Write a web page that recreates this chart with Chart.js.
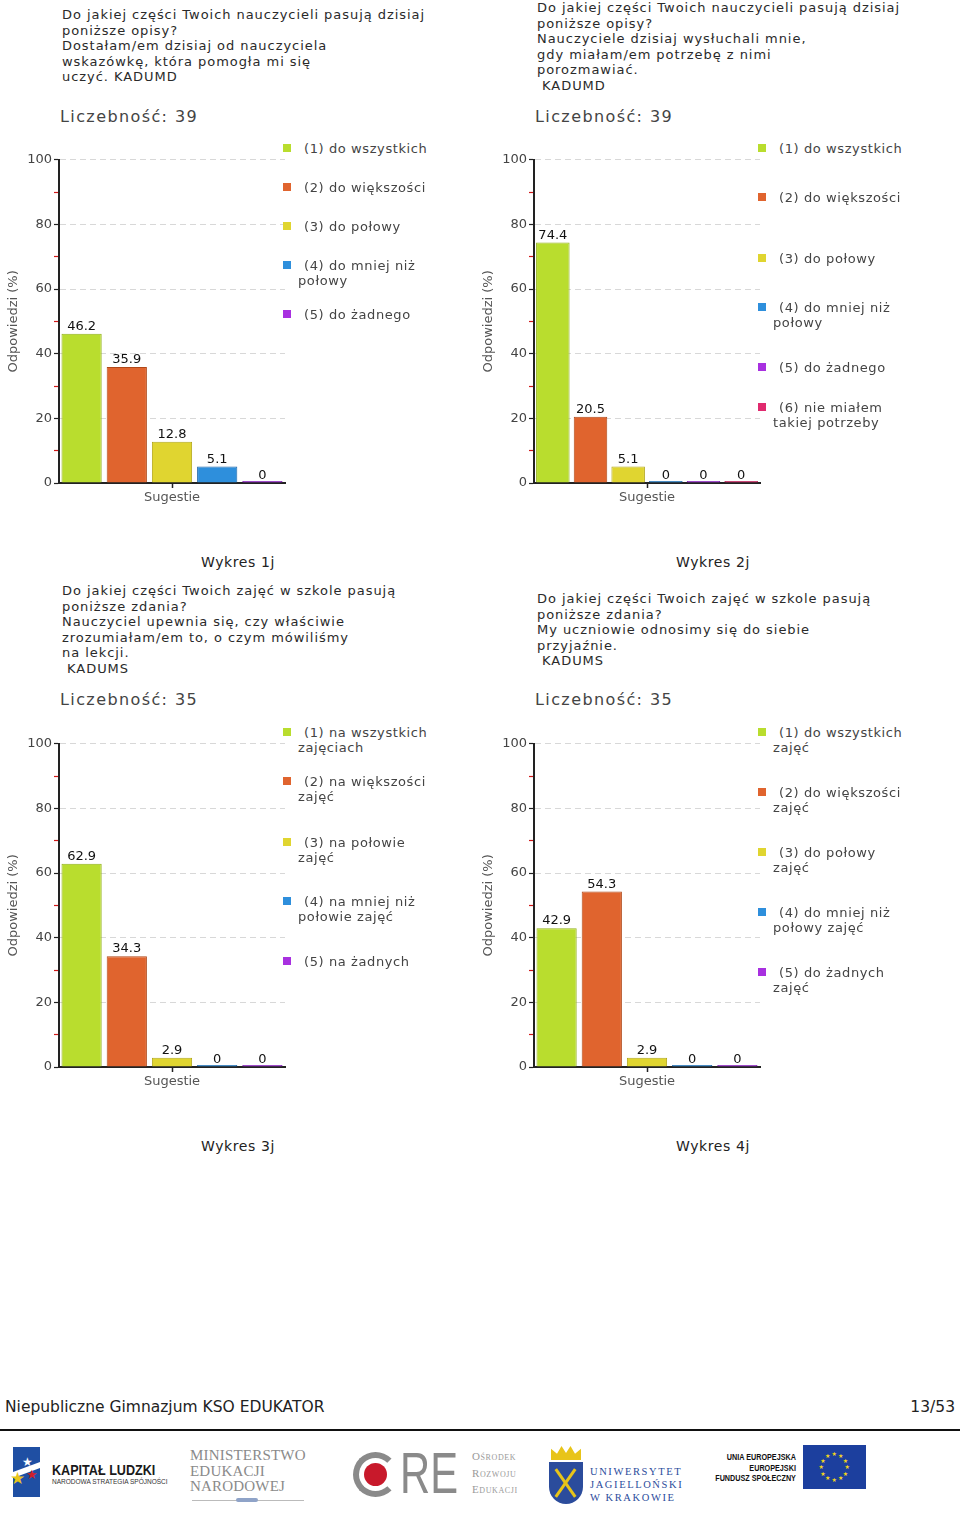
<!DOCTYPE html>
<html lang="pl">
<head>
<meta charset="UTF-8">
<title>Wykresy 1j-4j</title>
<script src="https://cdn.jsdelivr.net/npm/chart.js"></script>
<style>
    body {
        margin: 0;
        background: #fff;
        font-family: "DejaVu Sans", Verdana, sans-serif;
    }
    .page {
        position: relative;
        width: 960px;
        height: 1518px;
        overflow: hidden;
    }
    .abs { position: absolute; }
    .question {
        font-size: 13px;
        letter-spacing: 0.95px;
        line-height: 15.5px;
        color: #2a2a2a;
        white-space: nowrap;
    }
    .count {
        font-size: 16px;
        letter-spacing: 1.4px;
        line-height: 20px;
        color: #444;
        white-space: nowrap;
    }
    .caption {
        font-size: 14px;
        letter-spacing: 0.6px;
        line-height: 18px;
        color: #222;
        width: 300px;
        text-align: center;
    }
    .legend-item {
        font-size: 13px;
        letter-spacing: 0.6px;
        line-height: 15px;
        color: #444;
        white-space: nowrap;
        text-indent: 6px;
    }
    .legend-item .sq {
        position: absolute;
        left: -15px;
        top: 3px;
        width: 8px;
        height: 8px;
    }
    /* stopka */
    .footer-text { font-size: 15.5px; line-height: 20px; color: #222; }
    .rule { left: 0; top: 1429px; width: 960px; height: 2px; background: #111; }
    .men { font-family: "Liberation Serif", serif; color: #8a8a8a; font-size: 15px; line-height: 15.5px; letter-spacing: 0.2px; }
    .ore-small { font-family: "Liberation Serif", serif; color: #9a9a9a; font-size: 11px; line-height: 16.5px; font-variant: small-caps; letter-spacing: 0.6px; }
    .uj { font-family: "Liberation Serif", serif; color: #2b4c9c; font-size: 10.5px; line-height: 13px; letter-spacing: 1.6px; }
    .eu { font-family: "Liberation Sans", sans-serif; font-weight: bold; color: #111; font-size: 8.5px; line-height: 10.5px; text-align: right; white-space: nowrap; transform: scaleX(0.85); transform-origin: right top; }
</style>
</head>
<body>
<div class="page" id="page">

    <!-- Wykres 1j -->
    <div class="abs question" style="left:62px; top:7px;">Do jakiej części Twoich nauczycieli pasują dzisiaj<br>poniższe opisy?<br>Dostałam/em dzisiaj od nauczyciela<br>wskazówkę, która pomogła mi się<br>uczyć. KADUMD</div>
    <div class="abs count" style="left:60px; top:107px;">Liczebność: 39</div>
    <div class="abs caption" style="left:88px; top:553px;">Wykres 1j</div>

    <!-- Wykres 2j -->
    <div class="abs question" style="left:537px; top:0px;">Do jakiej części Twoich nauczycieli pasują dzisiaj<br>poniższe opisy?<br>Nauczyciele dzisiaj wysłuchali mnie,<br>gdy miałam/em potrzebę z nimi<br>porozmawiać.<br>&nbsp;KADUMD</div>
    <div class="abs count" style="left:535px; top:107px;">Liczebność: 39</div>
    <div class="abs caption" style="left:563px; top:553px;">Wykres 2j</div>

    <!-- Wykres 3j -->
    <div class="abs question" style="left:62px; top:583px;">Do jakiej części Twoich zajęć w szkole pasują<br>poniższe zdania?<br>Nauczyciel upewnia się, czy właściwie<br>zrozumiałam/em to, o czym mówiliśmy<br>na lekcji.<br>&nbsp;KADUMS</div>
    <div class="abs count" style="left:60px; top:690px;">Liczebność: 35</div>
    <div class="abs caption" style="left:88px; top:1137px;">Wykres 3j</div>

    <!-- Wykres 4j -->
    <div class="abs question" style="left:537px; top:591px;">Do jakiej części Twoich zajęć w szkole pasują<br>poniższe zdania?<br>My uczniowie odnosimy się do siebie<br>przyjaźnie.<br>&nbsp;KADUMS</div>
    <div class="abs count" style="left:535px; top:690px;">Liczebność: 35</div>
    <div class="abs caption" style="left:563px; top:1137px;">Wykres 4j</div>

    <!-- stopka -->
    <div class="abs footer-text" style="left:5px; top:1397px;">Niepubliczne Gimnazjum KSO EDUKATOR</div>
    <div class="abs footer-text" style="right:5px; top:1397px;">13/53</div>
    <div class="abs rule"></div>

    <!-- logo: Kapitał Ludzki -->
    <div class="abs" style="left:13px; top:1447px; width:27px; height:50px; background:#1f4fa3;"></div>
    <div class="abs" style="left:13px; top:1467px; width:27px; height:6px; background:#fff; transform:skewY(-20deg);"></div>
    <div class="abs" style="left:10px; top:1470px; color:#e8c619; font-size:17px; line-height:17px;">&#9733;</div>
    <div class="abs" style="left:26px; top:1468px; color:#d0202a; font-size:13px; line-height:13px;">&#9733;</div>
    <div class="abs" style="left:22px; top:1456px; color:#fff; font-size:12px; line-height:12px;">&#9733;</div>
    <div class="abs" style="left:52px; top:1462px; font-family:'Liberation Sans',sans-serif; font-weight:bold; font-size:14px; color:#1a1a1a; transform:scaleX(0.9); transform-origin:left top;">KAPITAŁ LUDZKI</div>
    <div class="abs" style="left:52px; top:1478px; font-family:'Liberation Sans',sans-serif; font-size:6.5px; color:#333; white-space:nowrap;">NARODOWA STRATEGIA SPÓJNOŚCI</div>

    <!-- logo: MEN -->
    <div class="abs men" style="left:190px; top:1448px;">MINISTERSTWO<br>EDUKACJI<br>NARODOWEJ</div>
    <div class="abs" style="left:192px; top:1500px; width:112px; height:1px; background:#bbb;"></div>
    <div class="abs" style="left:236px; top:1498px; width:22px; height:4px; background:#8fa3c8; border-radius:2px;"></div>

    <!-- logo: ORE -->
    <div class="abs" style="left:353px; top:1452px; width:33px; height:33px; border:6px solid #8a8a8a; border-radius:50%; border-right-color:transparent;"></div>
    <div class="abs" style="left:364px; top:1463px; width:23px; height:23px; background:#c8192b; border-radius:50%;"></div>
    <div class="abs" style="left:400px; top:1442px; font-family:'Liberation Sans',sans-serif; font-size:58px; line-height:62px; color:#8a8a8a; transform:scaleX(0.72); transform-origin:left top;">RE</div>
    <div class="abs ore-small" style="left:472px; top:1448px;">Ośrodek<br>Rozwoju<br>Edukacji</div>

    <!-- logo: UJ -->
    <div class="abs" style="left:551px; top:1446px; width:30px; height:14px; background:#e8c419; clip-path:polygon(0 100%,0 20%,20% 55%,35% 0,50% 50%,65% 0,80% 55%,100% 20%,100% 100%);"></div>
    <div class="abs" style="left:549px; top:1462px; width:34px; height:42px; background:#2b4c9c; border-radius:0 0 17px 17px;"></div>
    <div class="abs" style="left:564px; top:1466px; width:3px; height:34px; background:#e8c419; transform:rotate(35deg);"></div>
    <div class="abs" style="left:564px; top:1466px; width:3px; height:34px; background:#e8c419; transform:rotate(-35deg);"></div>
    <div class="abs uj" style="left:590px; top:1465px;">UNIWERSYTET<br>JAGIELLOŃSKI<br>W KRAKOWIE</div>

    <!-- logo: UE EFS -->
    <div class="abs eu" style="right:164px; top:1452px;">UNIA EUROPEJSKA<br>EUROPEJSKI<br>FUNDUSZ SPOŁECZNY</div>
    <div class="abs" id="euFlag" style="left:803px; top:1445px; width:63px; height:44px; background:#1c3f9e;"></div>

    <canvas id="c1" class="abs" width="290" height="360" style="left:0px; top:150px;"></canvas>
    <canvas id="c2" class="abs" width="290" height="360" style="left:475px; top:150px;"></canvas>
    <canvas id="c3" class="abs" width="290" height="360" style="left:0px; top:734px;"></canvas>
    <canvas id="c4" class="abs" width="290" height="360" style="left:475px; top:734px;"></canvas>
</div>

<script>
    // dane
    const categories = ['Sugestie'];
    const yTicks = [0, 20, 40, 60, 80, 100];
    const yTitle = 'Odpowiedzi (%)';

    const labels1 = [['(1) do wszystkich'], ['(2) do większości'], ['(3) do połowy'], ['(4) do mniej niż', 'połowy'], ['(5) do żadnego']];
    const values1 = [46.2, 35.9, 12.8, 5.1, 0];

    const labels2 = [['(1) do wszystkich'], ['(2) do większości'], ['(3) do połowy'], ['(4) do mniej niż', 'połowy'], ['(5) do żadnego'], ['(6) nie miałem', 'takiej potrzeby']];
    const values2 = [74.4, 20.5, 5.1, 0, 0, 0];

    const labels3 = [['(1) na wszystkich', 'zajęciach'], ['(2) na większości', 'zajęć'], ['(3) na połowie', 'zajęć'], ['(4) na mniej niż', 'połowie zajęć'], ['(5) na żadnych']];
    const values3 = [62.9, 34.3, 2.9, 0, 0];

    const labels4 = [['(1) do wszystkich', 'zajęć'], ['(2) do większości', 'zajęć'], ['(3) do połowy', 'zajęć'], ['(4) do mniej niż', 'połowy zajęć'], ['(5) do żadnych', 'zajęć']];
    const values4 = [42.9, 54.3, 2.9, 0, 0];

    // kolory serii
    const fills   = ['#b9dd2e', '#e0642e', '#e0d530', '#2e8fdc', '#a830e0', '#e02a6e'];
    const borders = ['#93b11c', '#b04818', '#b3a81c', '#1d66a8', '#7d1fb0', '#b01c50'];

    Chart.defaults.font.family = '"DejaVu Sans", Verdana, sans-serif';
    Chart.defaults.font.size = 13;

    // etykiety wartości nad słupkami
    const valueLabels = {
        id: 'valueLabels',
        afterDatasetsDraw(chart) {
            const ctx = chart.ctx;
            const y = chart.scales.y;
            ctx.save();
            ctx.font = '13px "DejaVu Sans"';
            ctx.fillStyle = '#111';
            ctx.textAlign = 'center';
            ctx.textBaseline = 'alphabetic';
            chart.data.datasets.forEach((ds, i) => {
                chart.getDatasetMeta(i).data.forEach((bar, j) => {
                    const v = ds.data[j];
                    ctx.fillText(String(v), bar.x, y.getPixelForValue(v) - 4);
                });
            });
            ctx.restore();
        }
    };

    function makeChart(canvasId, labels, values, legendTops) {
        const canvas = document.getElementById(canvasId);
        const datasets = labels.map((lab, i) => ({
            label: lab.join(' '),
            data: [values[i]],
            backgroundColor: fills[i],
            borderColor: borders[i],
            borderWidth: 1,
            minBarLength: 2,
            barPercentage: 0.89,
            categoryPercentage: 1.0
        }));

        new Chart(canvas, {
            type: 'bar',
            data: { labels: categories, datasets: datasets },
            options: {
                responsive: false,
                animation: false,
                layout: { padding: { top: 9, right: 5, left: 0, bottom: 0 } },
                plugins: { legend: { display: false }, tooltip: { enabled: false } },
                scales: {
                    x: {
                        afterFit: s => { s.height = 27; },
                        grid: {
                            offset: false,
                            drawOnChartArea: false,
                            tickLength: 5,
                            tickColor: '#222',
                            tickWidth: 1.5
                        },
                        border: { color: '#222', width: 2 },
                        ticks: { color: '#555', padding: 2, font: { size: 13 } }
                    },
                    y: {
                        min: 0,
                        max: 100,
                        afterFit: s => { s.width = 59; },
                        ticks: {
                            stepSize: 10,
                            color: '#444',
                            padding: 2,
                            font: { size: 13 },
                            callback: v => yTicks.includes(v) ? v : ''
                        },
                        grid: {
                            color: c => (c.tick && yTicks.includes(c.tick.value)) ? '#d8d8d8' : 'rgba(0,0,0,0)',
                            tickColor: c => (c.tick && yTicks.includes(c.tick.value)) ? '#222' : '#d01818',
                            tickLength: 5,
                            tickWidth: 1.2,
                            tickBorderDash: []
                        },
                        border: { color: '#222', width: 2, dash: [6, 4] },
                        title: {
                            display: true,
                            text: yTitle,
                            color: '#555',
                            font: { size: 13 },
                            padding: { top: 6, bottom: 0 }
                        }
                    }
                }
            },
            plugins: [valueLabels]
        });

        // legenda po prawej stronie
        const page = document.getElementById('page');
        const left = parseInt(canvas.style.left) + 298;
        const plotTop = parseInt(canvas.style.top) + 9;
        labels.forEach((lab, i) => {
            const item = document.createElement('div');
            item.className = 'abs legend-item';
            item.style.left = left + 'px';
            item.style.top = (plotTop + legendTops[i] - 7.5) + 'px';
            const sq = document.createElement('span');
            sq.className = 'sq';
            sq.style.background = fills[i];
            item.appendChild(sq);
            item.appendChild(document.createTextNode(lab[0]));
            for (let k = 1; k < lab.length; k++) {
                item.appendChild(document.createElement('br'));
                item.appendChild(document.createTextNode(lab[k]));
            }
            page.appendChild(item);
        });
    }

    makeChart('c1', labels1, values1, [-11, 28, 67, 106, 155]);
    makeChart('c2', labels2, values2, [-11, 38, 99, 148, 208, 248]);
    makeChart('c3', labels3, values3, [-11, 38, 99, 158, 218]);
    makeChart('c4', labels4, values4, [-11, 49, 109, 169, 229]);

    // gwiazdki flagi UE
    const flag = document.getElementById('euFlag');
    for (let k = 0; k < 12; k++) {
        const a = k * Math.PI / 6;
        const s = document.createElement('span');
        s.className = 'abs';
        s.textContent = '★';
        s.style.color = '#f2d61c';
        s.style.fontSize = '6px';
        s.style.lineHeight = '6px';
        s.style.left = (31.5 + 13 * Math.sin(a) - 3) + 'px';
        s.style.top = (22 - 13 * Math.cos(a) - 3) + 'px';
        flag.appendChild(s);
    }
</script>
</body>
</html>
